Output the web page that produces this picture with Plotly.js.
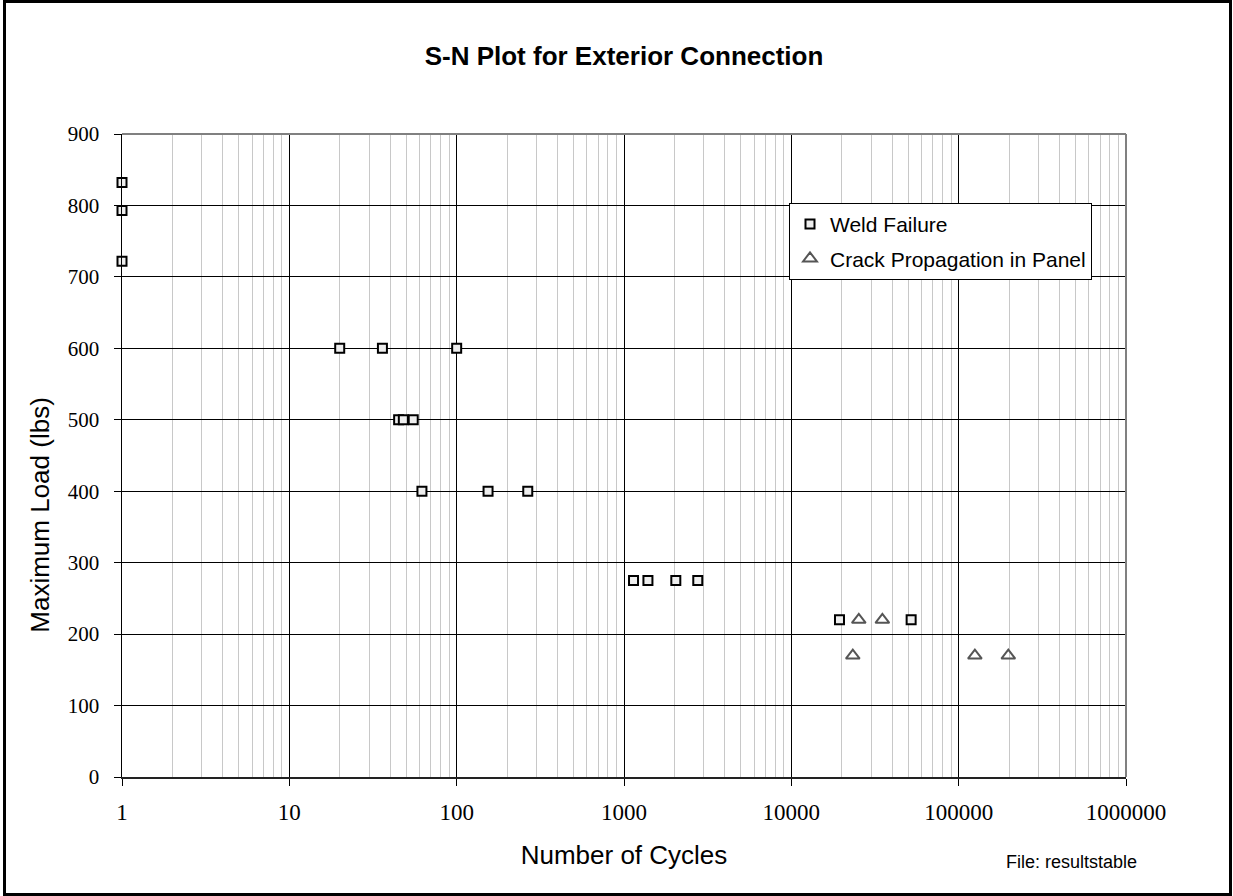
<!DOCTYPE html>
<html>
<head>
<meta charset="utf-8">
<script src="https://cdn.plot.ly/plotly-3.0.1.min.js"></script>
<style>
  html, body { margin: 0; padding: 0; background: #fff; }
  #wrap { position: relative; width: 1233px; height: 896px; }
  #chart { position: absolute; left: 0; top: 0; width: 1233px; height: 896px; }
  #frame { position: absolute; left: 3px; top: 0px; width: 1229px; height: 896px; box-sizing: border-box; border: 3px solid #000; pointer-events: none; }
</style>
</head>
<body>
<div id="wrap">
  <div id="chart"></div>
  <div id="frame"></div>
</div>
<script>
// Weld Failure data (cycles, max load lbs)
const weldCycles = [1, 1, 1, 20, 36, 100, 45, 48, 55, 62, 154, 266, 1140, 1390, 2040, 2760, 19400, 52000];
const weldLoad   = [832, 793, 722, 600, 600, 600, 500, 500, 500, 400, 400, 400, 275, 275, 275, 275, 220, 220];

// Crack Propagation in Panel data
const crackCycles = [25300, 35000, 23300, 125000, 198000];
const crackLoad   = [220, 220, 170, 170, 170];

const xTickVals = [1, 10, 100, 1000, 10000, 100000, 1000000];
const xTickText = ["1", "10", "100", "1000", "10000", "100000", "1000000"];
const yTickVals = [0, 100, 200, 300, 400, 500, 600, 700, 800, 900];

const serif = "Liberation Serif, Times New Roman, serif";
const sans = "Liberation Sans, Arial, sans-serif";

const traces = [
  {
    x: weldCycles, y: weldLoad, name: "Weld Failure",
    type: "scatter", mode: "markers", legendgroup: "a", cliponaxis: false,
    marker: { symbol: "square", size: 9, color: "#eeeeee", line: { color: "#000", width: 2 } }
  },
  {
    x: crackCycles, y: crackLoad, name: "Crack Propagation in Panel",
    type: "scatter", mode: "markers", legendgroup: "b", cliponaxis: false,
    marker: { symbol: "triangle-up-open", size: 12, color: "#555555", line: { color: "#555555", width: 2 } }
  }
];

const plotL = 122, plotR = 1126, plotT = 134, plotB = 777.5;
const plotW = plotR - plotL, plotH = plotB - plotT;

const layout = {
  width: 1233, height: 896,
  margin: { l: plotL, r: 1233 - plotR, t: plotT, b: 896 - plotB },
  paper_bgcolor: "#fff", plot_bgcolor: "#fff",
  showlegend: true,
  title: {
    text: "S-N Plot for Exterior Connection",
    font: { family: sans, size: 26, color: "#000", weight: "bold" },
    x: 0.5, xref: "paper", xanchor: "center",
    y: 1 - 56 / 896, yref: "container", yanchor: "middle"
  },
  xaxis: {
    type: "log", range: [0, 6],
    tickvals: xTickVals, ticktext: xTickText,
    tickfont: { family: serif, size: 23, color: "#000" },
    ticks: "outside", ticklen: 7, tickcolor: "#000", tickwidth: 1,
    ticklabelstandoff: 6,
    showgrid: true, gridcolor: "#000", gridwidth: 1,
    minor: { dtick: "D1", showgrid: true, gridcolor: "#c8c8c8", gridwidth: 1, ticks: "" },
    showline: true, linecolor: "#222", linewidth: 2,
    zeroline: false,
    title: { text: "Number of Cycles", font: { family: sans, size: 26, color: "#000" }, standoff: 22 }
  },
  yaxis: {
    range: [0, 900], tickvals: yTickVals,
    tickfont: { family: serif, size: 21, color: "#000" },
    ticks: "outside", ticklen: 7, tickcolor: "#000", tickwidth: 1,
    ticklabelstandoff: 10,
    showgrid: true, gridcolor: "#000", gridwidth: 1,
    showline: true, linecolor: "#000", linewidth: 1.5,
    zeroline: false
  },
  legend: {
    x: (789 - plotL) / plotW, xanchor: "left",
    y: 1 - (203 - plotT) / plotH, yanchor: "top",
    bgcolor: "#fff", bordercolor: "#000", borderwidth: 1,
    font: { family: sans, size: 21, color: "#000" },
    traceorder: "grouped", tracegroupgap: 4,
    itemwidth: 30
  },
  shapes: [
    { type: "line", xref: "paper", yref: "paper", x0: 0, x1: 1, y0: 1, y1: 1, line: { color: "#808080", width: 2 }, layer: "above" },
    { type: "line", xref: "paper", yref: "paper", x0: 1, x1: 1, y0: 0, y1: 1, line: { color: "#808080", width: 2 }, layer: "above" }
  ],
  annotations: [
    { text: "Maximum Load (lbs)", xref: "paper", yref: "paper",
      x: (40 - plotL) / plotW, y: 1 - (515 - plotT) / plotH,
      xanchor: "center", yanchor: "middle", textangle: -90, showarrow: false,
      font: { family: sans, size: 26, color: "#000" } },
    { text: "File: resultstable", xref: "paper", yref: "paper",
      x: (1004 - plotL) / plotW, y: -(863 - plotB) / plotH,
      xanchor: "left", yanchor: "middle", showarrow: false,
      font: { family: sans, size: 18, color: "#000" } }
  ]
};

Plotly.newPlot("chart", traces, layout, { displayModeBar: false, staticPlot: true });
</script>
</body>
</html>
